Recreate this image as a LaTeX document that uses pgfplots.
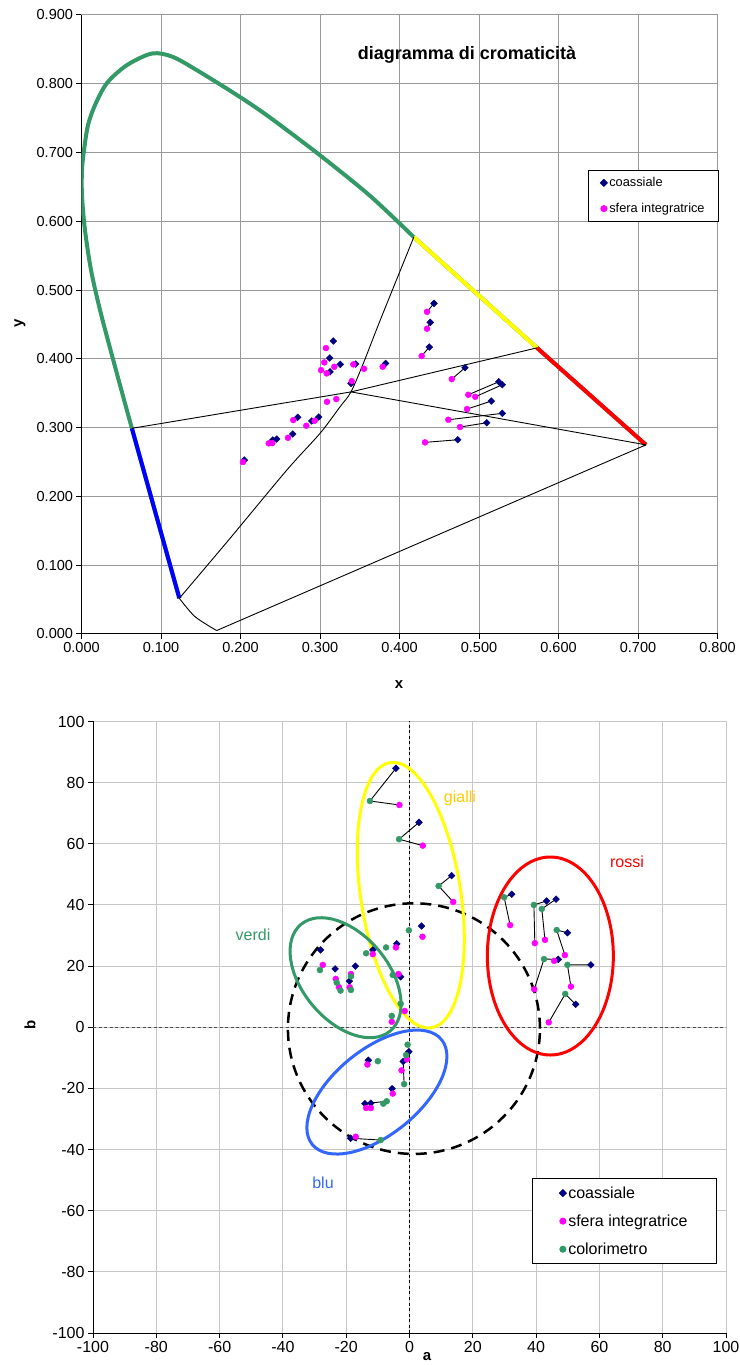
\documentclass[border=0pt]{standalone}
\usepackage{pgfplots}
\pgfplotsset{compat=1.18}
\usepackage{fontspec}
\setmainfont{Liberation Sans}
\definecolor{navy}{HTML}{000080}
\definecolor{mag}{HTML}{FF00FF}
\definecolor{sgreen}{HTML}{339966}
\definecolor{bblue}{HTML}{3366FF}
\definecolor{gold}{HTML}{FFCC00}
\definecolor{pblue}{HTML}{0000FF}
\definecolor{pyellow}{HTML}{FFFF00}
\definecolor{pred}{HTML}{FF0000}
\pgfplotsset{
  mystyle/.style={
    scale only axis,
    axis x line*=bottom, axis y line*=left,
    axis line style={-, line width=1pt, black},
    tick align=outside, major tick length=5pt,
    tick style={line width=1pt, black},
    grid=major,
    scaled ticks=false,
    legend cell align=left,
    /pgf/number format/assume math mode=true,
  },
  coas/.style={only marks, mark=square*, mark size=2.4pt, mark options={rotate=45, fill=navy, draw=navy}, navy},
  sfera/.style={only marks, mark=*, mark size=3pt, mark options={fill=mag, draw=mag}, mag},
  colo/.style={only marks, mark=*, mark size=3pt, mark options={fill=sgreen, draw=sgreen}, sgreen},
  conn/.style={black, line width=0.9pt, forget plot},
}
\begin{document}
\begin{tikzpicture}[x=1pt,y=1pt]
\path[use as bounding box] (0,0) rectangle (739,1365);
%%%%%%%%%%%%%%%% TOP CHART
\begin{axis}[mystyle,
  at={(81.5pt,731pt)}, anchor=south west,
  width=636pt, height=619pt,
  xmin=0, xmax=0.8, ymin=0, ymax=0.9,
  xtick={0,0.1,0.2,0.3,0.4,0.5,0.6,0.7,0.8},
  ytick={0,0.1,0.2,0.3,0.4,0.5,0.6,0.7,0.8,0.9},
  /pgf/number format/fixed, /pgf/number format/fixed zerofill, /pgf/number format/precision=3,
  tick label style={font=\fontsize{14.5}{16}\selectfont},
  major grid style={draw=black!40, line width=1pt},
  legend style={at={(0.7964,0.7496)}, anchor=north west, draw=black, line width=1pt,
    font=\fontsize{12.8}{14}\selectfont, row sep=11pt, inner xsep=12pt, inner ysep=5pt},
]
% spectral locus
\addplot[sgreen, line width=4pt, smooth, forget plot] coordinates {
(0.1231,0.0519) (0.0634,0.299) (0.040,0.398) (0.0233,0.471) (0.012,0.529) (0.0044,0.587)
(0.0006,0.638) (0.0006,0.674) (0.0031,0.703) (0.0082,0.740) (0.017,0.769) (0.032,0.801)
(0.057,0.827) (0.0887,0.844) (0.115,0.839) (0.149,0.817) (0.199,0.781) (0.237,0.751)
(0.300,0.696) (0.363,0.637) (0.418,0.577)};
\addplot[sgreen, line width=4pt, forget plot] coordinates {(0.418,0.577) (0.573,0.416) (0.710,0.275)};
\addplot[pyellow, line width=4pt, forget plot] coordinates {(0.418,0.577) (0.573,0.416)};
\addplot[pred, line width=4pt, forget plot] coordinates {(0.573,0.416) (0.710,0.275)};
\addplot[pblue, line width=4pt, forget plot] coordinates {(0.1231,0.0519) (0.0634,0.299)};
% construction lines
\addplot[conn] coordinates {(0.0634,0.299) (0.339,0.352) (0.573,0.416)};
\addplot[conn] coordinates {(0.339,0.352) (0.710,0.275)};
\addplot[conn] coordinates {(0.170,0.005) (0.710,0.275)};
\addplot[conn, smooth] coordinates {(0.418,0.577) (0.3758,0.4564) (0.3545,0.3935) (0.339,0.352) (0.325,0.330) (0.300,0.2917) (0.258,0.238) (0.1868,0.139) (0.1231,0.0519)};
\addplot[conn, smooth] coordinates {(0.1231,0.0519) (0.1428,0.0252) (0.170,0.005)};
% pair lines
\addplot[conn] coordinates {(0.4434,0.4807) (0.4346,0.4685)};
\addplot[conn] coordinates {(0.4387,0.4531) (0.4346,0.4438)};
\addplot[conn] coordinates {(0.4375,0.4172) (0.4279,0.4041)};
\addplot[conn] coordinates {(0.4824,0.3871) (0.4657,0.3706)};
\addplot[conn] coordinates {(0.5248,0.3667) (0.4865,0.3478)};
\addplot[conn] coordinates {(0.5293,0.3624) (0.4953,0.3449)};
\addplot[conn] coordinates {(0.5155,0.3387) (0.4849,0.3270)};
\addplot[conn] coordinates {(0.5293,0.3208) (0.4614,0.3115)};
\addplot[conn] coordinates {(0.5097,0.3071) (0.4761,0.3009)};
\addplot[conn] coordinates {(0.4732,0.2824) (0.4321,0.2786)};
% points
\addplot[coas] coordinates {
(0.3167,0.4259) (0.3122,0.4012) (0.3255,0.3920) (0.3126,0.3812) (0.3449,0.3924) (0.3826,0.3935)
(0.3390,0.3644) (0.2719,0.3150) (0.2984,0.3154) (0.2896,0.3096) (0.2657,0.2907) (0.2455,0.2834)
(0.2405,0.2820) (0.2048,0.2529)
(0.4434,0.4807) (0.4387,0.4531) (0.4375,0.4172) (0.4824,0.3871) (0.5248,0.3667) (0.5293,0.3624)
(0.5155,0.3387) (0.5293,0.3208) (0.5097,0.3071) (0.4732,0.2824)};
\addlegendentry{coassiale}
\addplot[sfera] coordinates {
(0.3075,0.4157) (0.3054,0.3949) (0.3013,0.3837) (0.3084,0.3789) (0.3180,0.3885) (0.3419,0.3920)
(0.3553,0.3856) (0.3789,0.3885) (0.3399,0.3677) (0.3088,0.3376) (0.3205,0.3416) (0.2664,0.3110)
(0.2933,0.3100) (0.2828,0.3028) (0.2597,0.2853) (0.2355,0.2772) (0.2400,0.2776) (0.2031,0.2500)
(0.4346,0.4685) (0.4346,0.4438) (0.4279,0.4041) (0.4657,0.3706) (0.4865,0.3478) (0.4953,0.3449)
(0.4849,0.3270) (0.4614,0.3115) (0.4761,0.3009) (0.4321,0.2786)};
\addlegendentry{sfera integratrice}
\end{axis}
%%%%%%%%%%%%%%%% BOTTOM CHART
\begin{axis}[mystyle,
  at={(93pt,32pt)}, anchor=south west,
  width=633pt, height=611.5pt,
  xmin=-100, xmax=100, ymin=-100, ymax=100,
  xtick distance=20, ytick distance=20,
  tick label style={font=\fontsize{16}{18}\selectfont},
  major grid style={draw=black!22, line width=1pt},
  legend style={at={(0.6935,0.2535)}, anchor=north west, draw=black, line width=1pt,
    font=\fontsize{16}{18}\selectfont, row sep=11pt, inner xsep=27pt, inner ysep=6pt},
]
\draw[black!70, line width=1.2pt, dash pattern=on 3pt off 2.5pt] (axis cs:-100,0) -- (axis cs:100,0);
\draw[black, line width=1.2pt, dash pattern=on 3pt off 2.5pt] (axis cs:0,-100) -- (axis cs:0,100);
\draw[black, line width=2.5pt, dash pattern=on 11pt off 7pt] (axis cs:1.4,-0.45) ellipse [x radius=126pt, y radius=125.3pt];
\draw[pyellow, line width=3pt] (axis cs:0.4,43.2) ellipse [x radius=50pt, y radius=134.2pt, rotate=8.8];
\draw[sgreen, line width=3pt] (axis cs:-20.2,16.2) ellipse [x radius=69.5pt, y radius=43pt, rotate=-50];
\draw[bblue, line width=3pt] (axis cs:-10.3,-21.2) ellipse [x radius=83.2pt, y radius=42.7pt, rotate=39];
\draw[pred, line width=3pt] (axis cs:44.5,23.3) ellipse [x radius=63pt, y radius=99pt];
% connecting lines
\addplot[conn] coordinates {(-4.3,84.7) (-12.5,74.0) (-3.2,72.7)};
\addplot[conn] coordinates {(3.0,67.0) (-3.3,61.5) (4.2,59.4)};
\addplot[conn] coordinates {(13.3,49.6) (9.2,46.2) (13.8,41.0)};
\addplot[conn] coordinates {(-2.0,-11.2) (-1.7,-18.6)};
\addplot[conn] coordinates {(-14.1,-25.0) (-7.2,-24.2)};
\addplot[conn] coordinates {(-18.6,-36.3) (-9.1,-36.9)};
\addplot[conn] coordinates {(32.3,43.5) (29.9,42.5) (31.8,33.4)};
\addplot[conn] coordinates {(43.3,41.3) (39.3,40.0) (39.6,27.5)};
\addplot[conn] coordinates {(46.3,41.9) (41.8,38.7) (42.8,28.6)};
\addplot[conn] coordinates {(49.9,30.9) (46.5,31.8) (49.1,23.6)};
\addplot[conn] coordinates {(47.0,22.2) (42.5,22.3) (39.4,12.4)};
\addplot[conn] coordinates {(57.3,20.4) (49.9,20.4) (51.0,13.3)};
\addplot[conn] coordinates {(52.5,7.5) (49.2,10.9) (44.0,1.6)};
% points
\addplot[coas] coordinates {
(-4.3,84.7) (3.0,67.0) (13.3,49.6) (3.8,33.1) (-4.0,27.3) (-11.6,25.3)
(-28.1,25.3) (-23.5,19.1) (-17.1,20.0) (-19.0,15.1) (-2.8,16.5)
(-0.2,-8.0) (-2.0,-11.2) (-13.0,-10.8) (-5.5,-20.1) (-14.1,-25.0) (-12.2,-24.8) (-18.6,-36.3)
(32.3,43.5) (43.3,41.3) (46.3,41.9) (49.9,30.9) (47.0,22.2) (57.3,20.4) (52.5,7.5)};
\addlegendentry{coassiale}
\addplot[sfera] coordinates {
(-3.2,72.7) (4.2,59.4) (13.8,41.0) (4.1,29.6) (-4.3,26.1) (-11.6,23.9)
(-27.4,20.4) (-23.3,15.8) (-18.5,17.4) (-22.3,13.1) (-18.9,13.1) (-3.5,17.4) (-1.5,5.3) (-5.6,1.8)
(-0.8,-10.5) (-2.5,-14.1) (-13.3,-12.2) (-5.3,-21.7) (-13.7,-26.4) (-12.2,-26.4) (-17.0,-35.8)
(31.8,33.4) (39.6,27.5) (42.8,28.6) (49.1,23.6) (45.7,21.7) (39.4,12.4) (51.0,13.3) (44.0,1.6)};
\addlegendentry{sfera integratrice}
\addplot[colo] coordinates {
(-12.5,74.0) (-3.3,61.5) (9.2,46.2) (-0.2,31.7) (-7.4,26.1) (-13.7,24.2)
(-28.3,18.7) (-23.0,14.6) (-18.5,16.6) (-21.8,12.0) (-18.5,12.2) (-5.3,17.1) (-2.8,7.7) (-5.6,3.7)
(-0.6,-5.7) (-1.1,-9.1) (-1.7,-18.6) (-10.0,-11.1) (-7.2,-24.2) (-8.3,-25.0) (-9.1,-36.9)
(29.9,42.5) (39.3,40.0) (41.8,38.7) (46.5,31.8) (42.5,22.3) (49.9,20.4) (49.2,10.9)};
\addlegendentry{colorimetro}
\end{axis}
%%%%%%%%%%%%%%%% texts
\node[font=\bfseries\fontsize{18}{21}\selectfont] at (467,1310) {diagramma di cromaticità};
\node[font=\bfseries\fontsize{15}{18}\selectfont] at (399,680) {x};
\node[font=\bfseries\fontsize{15}{18}\selectfont, rotate=90] at (20,1042) {y};
\node[font=\bfseries\fontsize{15}{18}\selectfont, rotate=90] at (30,340) {b};
\node[font=\bfseries\fontsize{15}{18}\selectfont] at (427,8) {a};
\node[text=gold, font=\fontsize{16}{18}\selectfont] at (460,567) {gialli};
\node[text=pred, font=\fontsize{16}{18}\selectfont] at (627,503) {rossi};
\node[text=sgreen, font=\fontsize{16}{18}\selectfont] at (253,430) {verdi};
\node[text=bblue, font=\fontsize{16}{18}\selectfont] at (323,182) {blu};
\end{tikzpicture}
\end{document}
